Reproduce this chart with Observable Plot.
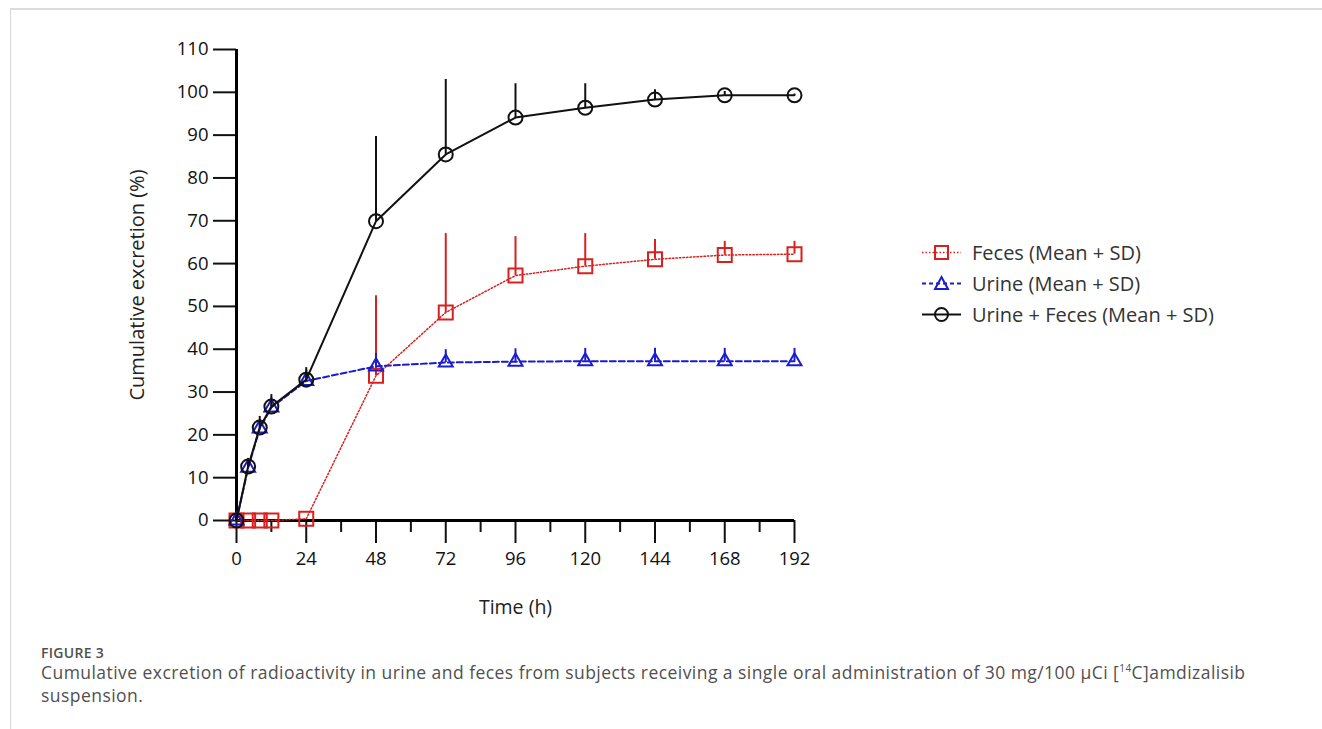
<!DOCTYPE html>
<html>
<head>
<meta charset="utf-8">
<script src="https://cdn.jsdelivr.net/npm/d3@7"></script>
<script src="https://cdn.jsdelivr.net/npm/@observablehq/plot@0.6"></script>
<style>
  html, body { margin: 0; padding: 0; background: #fff; }
  body { width: 1322px; height: 729px; position: relative; overflow: hidden; font-family: "Open Sans", sans-serif; }
  #frame { position: absolute; left: 10px; top: 8px; right: 0; bottom: 0; border-left: 1px solid #d6d6d6; border-top: 2px solid #dcdcdc; }
  #chart { position: absolute; left: 0; top: 0; }
  #legend { position: absolute; left: 921px; top: 237px; font-size: 20px; color: #333; }
  #legend .row { height: 31px; display: flex; align-items: center; }
  #legend svg { margin-right: 10px; }
  #caption { position: absolute; left: 41px; top: 644px; color: #505050; }
  #caption .fig { font-size: 14px; font-weight: 600; letter-spacing: 0.3px; line-height: 18px; }
  #caption .txt { font-size: 17.5px; letter-spacing: 0.45px; line-height: 23px; margin-top: -5px; }
</style>
</head>
<body>
<div id="frame"></div>
<div id="chart"></div>
<div id="legend"></div>
<div id="caption">
  <div class="fig">FIGURE 3</div>
  <div class="txt">Cumulative excretion of radioactivity in urine and feces from subjects receiving a single oral administration of 30 mg/100 μCi [<sup style="font-size:10px">14</sup>C]amdizalisib<br>suspension.</div>
</div>
<script>
// ---- data ----
const times    = [0, 4, 8, 12, 24, 48, 72, 96, 120, 144, 168, 192];
const feces    = [0, 0, 0, 0, 0.4, 33.8, 48.6, 57.2, 59.4, 61.0, 62.0, 62.2];
const fecesSD  = [0, 0, 0, 0, 0, 18.7, 18.4, 9.1, 7.6, 4.6, 3.2, 3.0];
const urine    = [0, 12.3, 21.5, 26.4, 32.6, 36.0, 36.9, 37.1, 37.2, 37.2, 37.2, 37.2];
const urineSD  = [0, 1.5, 2.0, 2.2, 2.5, 3.0, 3.0, 3.0, 3.0, 3.0, 3.0, 3.0];
const total    = [0, 12.6, 21.7, 26.6, 32.9, 69.9, 85.5, 94.1, 96.4, 98.3, 99.3, 99.3];
const totalSD  = [0, 1.9, 2.6, 2.8, 2.8, 19.8, 17.5, 7.9, 5.6, 2.3, 0.9, 0.3];

const xMajorTicks = [0, 24, 48, 72, 96, 120, 144, 168, 192];
const xMinorTicks = [12, 36, 60, 84, 108, 132, 156, 180];
const yTicks = [0, 10, 20, 30, 40, 50, 60, 70, 80, 90, 100, 110];

const seriesNames = ["Feces (Mean + SD)", "Urine (Mean + SD)", "Urine + Feces (Mean + SD)"];
const xLabel = "Time (h)";
const yLabel = "Cumulative excretion (%)";

// ---- styles ----
const RED = "#d8201f", BLUE = "#1c1ccf", BLACK = "#111";

const squareSym = { draw(ctx) { const h = 7; ctx.moveTo(-h, -h); ctx.lineTo(h, -h); ctx.lineTo(h, h); ctx.lineTo(-h, h); ctx.closePath(); } };
const triSym = { draw(ctx) { const s = 14, ht = s * Math.sqrt(3) / 2; ctx.moveTo(0, -ht * 2 / 3); ctx.lineTo(s / 2, ht / 3); ctx.lineTo(-s / 2, ht / 3); ctx.closePath(); } };

const rows = times.map((t, i) => ({
  t,
  feces: feces[i], fecesTop: feces[i] + fecesSD[i],
  urine: urine[i], urineTop: urine[i] + urineSD[i],
  total: total[i], totalTop: total[i] + totalSD[i]
}));

const chart = Plot.plot({
  width: 1322,
  height: 640,
  marginLeft: 236,
  marginRight: 528,
  marginTop: 49,
  marginBottom: 120,
  style: { fontFamily: "Open Sans, sans-serif", fontSize: "18px", background: "transparent", color: "#111" },
  x: { domain: [0, 192] },
  y: { domain: [0, 110] },
  marks: [
    Plot.axisY({ ticks: yTicks, tickSize: 23, tickPadding: 5, label: null, strokeWidth: 2, fontSize: 18.5 }),
    Plot.axisX({ ticks: xMajorTicks, tickSize: 23, tickPadding: 8, label: null, strokeWidth: 2, fontSize: 18.5 }),
    Plot.axisX({ ticks: xMinorTicks, tickSize: 12, tickFormat: () => "", label: null, strokeWidth: 2 }),
    Plot.ruleY([0], { x1: 0, x2: 192, strokeWidth: 3, stroke: "black" }),
    Plot.ruleX([0], { y1: 0, y2: 110, strokeWidth: 3, stroke: "black" }),
    Plot.text([yLabel], { frameAnchor: "left", dx: -99, rotate: -90, textAnchor: "middle", fontSize: 20, fill: "#222", text: d => d }),
    Plot.text([xLabel], { frameAnchor: "bottom", dy: 93, textAnchor: "middle", fontSize: 19.5, fill: "#222", text: d => d }),
    // feces
    Plot.ruleX(rows.filter(d => d.fecesTop > d.feces), { x: "t", y1: "feces", y2: "fecesTop", stroke: RED, strokeWidth: 2 }),
    Plot.line(rows, { x: "t", y: "feces", stroke: RED, strokeWidth: 1.5, strokeDasharray: "1.5,2" }),
    Plot.dot(rows, { x: "t", y: "feces", symbol: squareSym, stroke: RED, strokeWidth: 2, fill: "none" }),
    // urine
    Plot.ruleX(rows, { x: "t", y1: "urine", y2: "urineTop", stroke: BLUE, strokeWidth: 2 }),
    Plot.line(rows, { x: "t", y: "urine", stroke: BLUE, strokeWidth: 2, strokeDasharray: "6,3" }),
    Plot.dot(rows, { x: "t", y: "urine", symbol: triSym, stroke: BLUE, strokeWidth: 2, fill: "none" }),
    // total
    Plot.ruleX(rows, { x: "t", y1: "total", y2: "totalTop", stroke: BLACK, strokeWidth: 2 }),
    Plot.line(rows, { x: "t", y: "total", stroke: BLACK, strokeWidth: 2 }),
    Plot.dot(rows, { x: "t", y: "total", r: 7, stroke: BLACK, strokeWidth: 2, fill: "none" })
  ]
});
document.getElementById("chart").appendChild(chart);

// ---- legend ----
const legendDefs = [
  { name: seriesNames[0], color: RED, dash: "1.5,2", sym: "square" },
  { name: seriesNames[1], color: BLUE, dash: "4,3", sym: "triangle" },
  { name: seriesNames[2], color: BLACK, dash: null, sym: "circle" }
];
const legend = document.getElementById("legend");
for (const d of legendDefs) {
  const row = document.createElement("div");
  row.className = "row";
  let symStr = "";
  if (d.sym === "square") symStr = `<rect x="14" y="4" width="13" height="13" fill="none" stroke="${d.color}" stroke-width="2"/>`;
  else if (d.sym === "triangle") symStr = `<path d="M20.5,4 L27,16 L14,16 Z" fill="none" stroke="${d.color}" stroke-width="2"/>`;
  else symStr = `<circle cx="20.5" cy="10.5" r="6.5" fill="none" stroke="${d.color}" stroke-width="2"/>`;
  row.innerHTML = `<svg width="41" height="21"><line x1="1" x2="40" y1="10.5" y2="10.5" stroke="${d.color}" stroke-width="${d.sym === "square" ? 1.5 : 2}" ${d.dash ? `stroke-dasharray="${d.dash}"` : ""}/>${symStr}</svg><span>${d.name}</span>`;
  legend.appendChild(row);
}
</script>
</body>
</html>
